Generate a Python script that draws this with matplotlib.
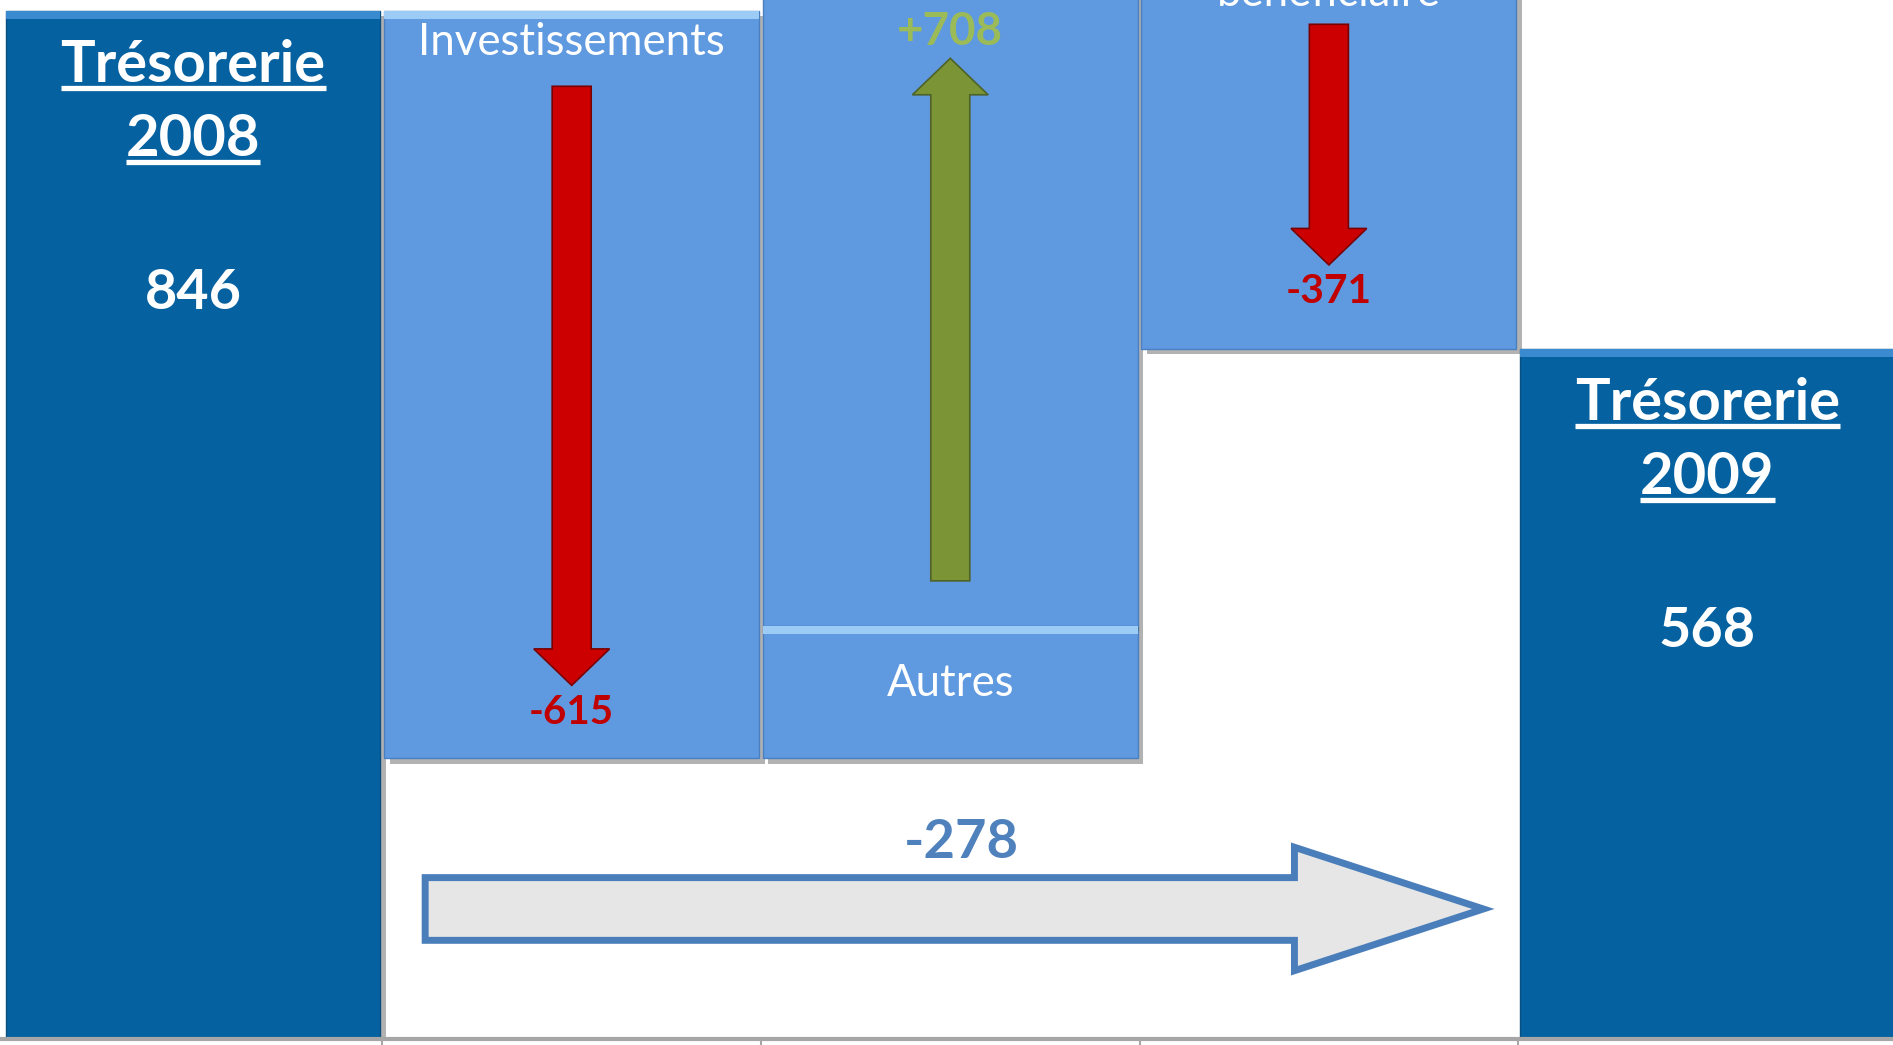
import matplotlib
matplotlib.use("Agg")
import matplotlib.pyplot as plt
from matplotlib import patheffects as pe
import numpy as np

# Donnees (tresorerie, en milliers)
treso_2008 = 846
treso_2009 = 568
noms_var = ['Investissements', 'Autres', 'bénéficiaire']
variations = [-615, 708, -371]
autres_boite = 109   # partie basse de la barre "Autres" (case du libelle)

plt.rcParams['font.family'] = ['Lato', 'DejaVu Sans']

bleu_fonce = '#0561A0'
bleu_clair = '#5F99E0'
rouge = '#CC0000'
vert = '#7A9436'
ombre = [pe.withSimplePatchShadow(offset=(4, -4), shadow_rgbFace='#555555', alpha=0.45)]

fig = plt.figure(figsize=(18.93, 10.45), dpi=100)
ax = fig.add_axes([0, 6 / 1045, 1, 1039 / 1045])
ax.set_xlim(-0.51, 4.49)
ax.set_ylim(0, 855)
larg = 0.99
rend = fig.canvas.get_renderer()


def ajuste(t, largeur_px):
    # regle la taille pour obtenir la largeur voulue en pixels
    for _ in range(2):
        w = t.get_window_extent(rend).width
        t.set_fontsize(t.get_fontsize() * largeur_px / w)
    return t


# barres de tresorerie
tot = ax.bar([0, 4], [treso_2008, treso_2009], width=larg, color=bleu_fonce,
             edgecolor='#0A4F80', linewidth=1, zorder=2)
for b in tot:
    b.set_path_effects(ombre)
    ax.bar(b.get_x() + larg / 2, 7, bottom=b.get_height() - 7, width=larg,
           color='#3A8AD0', linewidth=0, zorder=3)

# barres de variation
niveau = treso_2008
debuts, fins = [], []
for i, v in enumerate(variations):
    debut, fin = niveau, niveau + v
    debuts.append(debut)
    fins.append(fin)
    bas, haut = min(debut, fin), max(debut, fin)
    if noms_var[i] == 'Autres':
        segs = [(bas, autres_boite), (bas + autres_boite, haut - bas - autres_boite)]
    else:
        segs = [(bas, haut - bas)]
    for b0, h in segs:
        r = ax.bar(i + 1, h, bottom=b0, width=larg, color=bleu_clair,
                   edgecolor='#4A7FC0', linewidth=1, zorder=2)
        r[0].set_path_effects(ombre)
        ax.bar(i + 1, 7, bottom=b0 + h - 7, width=larg, color='#9CCBF5',
               linewidth=0, zorder=3)
    niveau = fin

# fleches de variation
insets = [(62, 60), (146, 132), (104, 69)]
larg_val = [85, 106, 86]
for i, v in enumerate(variations):
    s = np.sign(v)
    queue = debuts[i] + s * insets[i][0]
    pointe = fins[i] - s * insets[i][1]
    coul, bord = (vert, '#4F6228') if v > 0 else (rouge, '#7A0000')
    ax.arrow(i + 1, queue, 0, pointe - queue, width=0.103, head_width=0.2,
             head_length=30, length_includes_head=True, fc=coul, ec=bord,
             lw=1.2, zorder=4)
    coul_txt = '#9BBB59' if v > 0 else '#C00000'
    t = ax.text(i + 1, pointe + s * 22, f'{v:+d}', ha='center', va='center',
                fontsize=36, fontweight='bold', color=coul_txt, zorder=5)
    ajuste(t, larg_val[i])

# libelles des variations
t = ax.text(1, debuts[0] - 26, noms_var[0], ha='center', va='center', fontsize=37,
            color='white', zorder=5)
ajuste(t, 308)
taille_nom = t.get_fontsize()
ax.text(2, fins[0] + autres_boite / 2 + 7, noms_var[1], ha='center', va='center',
        fontsize=taille_nom, color='white', zorder=5)
ax.text(3, debuts[2] - 79, noms_var[2], ha='center', va='center', fontsize=taille_nom,
        color='white', zorder=5)

# libelles des tresoreries
soulignes = []
for x, annee, val in [(0, '2008', treso_2008), (4, '2009', treso_2009)]:
    t1 = ax.text(x, val - 45, 'Trésorerie', ha='center', va='center',
                 fontsize=47, fontweight='bold', color='white', zorder=5)
    ajuste(t1, 266)
    t2 = ax.text(x, val - 106, annee, ha='center', va='center',
                 fontsize=t1.get_fontsize(), fontweight='bold', color='white', zorder=5)
    t3 = ax.text(x, val - 232, f'{val}', ha='center', va='center',
                 fontsize=48, fontweight='bold', color='white', zorder=5)
    ajuste(t3, 97)
    soulignes += [t1, t2]

# fleche de la variation nette
net = treso_2009 - treso_2008
ax.arrow(0.613, 107, 3.408 - 0.613, 0, width=51.6, head_width=101.6,
         head_length=0.499, length_includes_head=True, fc='#E6E6E6',
         ec='#4A7EBB', lw=5, zorder=4, joinstyle='miter')
t = ax.text(2.03, 162, f'{net:+d}', ha='center', va='center', fontsize=44,
            fontweight='bold', color='#4F81BD', zorder=5)
ajuste(t, 115)

# axe
for c in ['top', 'left', 'right']:
    ax.spines[c].set_visible(False)
ax.spines['bottom'].set_color('#A6A6A6')
ax.spines['bottom'].set_linewidth(3)
ax.set_yticks([])
ax.set_xticks([0.5, 1.5, 2.5, 3.5])
ax.set_xticklabels([])
ax.tick_params(axis='x', length=6, width=1.5, color='#A6A6A6')

# soulignement
fig.canvas.draw()
inv = ax.transData.inverted()
for t in soulignes:
    bb = t.get_window_extent(rend)
    x0, y0 = inv.transform((bb.x0, bb.y0 + 4))
    x1, _ = inv.transform((bb.x1, bb.y0 + 4))
    ax.plot([x0, x1], [y0, y0], color='white', lw=3.8, solid_capstyle='butt', zorder=5)

fig.savefig('out.png', dpi=100)
